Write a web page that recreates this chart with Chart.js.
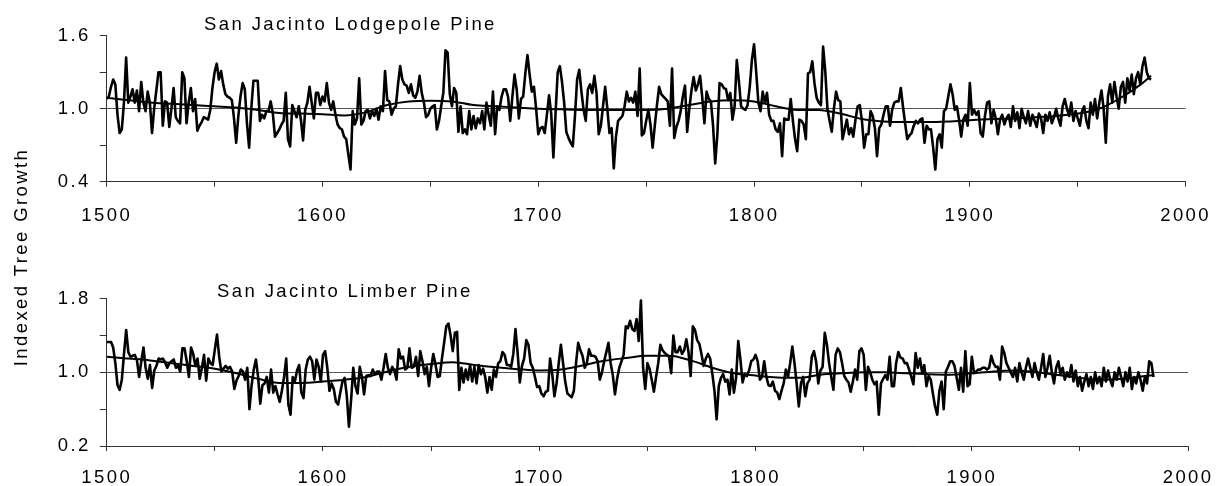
<!DOCTYPE html>
<html>
<head>
<meta charset="utf-8">
<title>San Jacinto tree growth</title>
<script src="https://cdn.jsdelivr.net/npm/chart.js@4/dist/chart.umd.min.js"></script>
<style>
  html, body { margin: 0; padding: 0; background: #fff; }
  #page { position: relative; width: 1229px; height: 486px; overflow: hidden; }
  .panel { position: absolute; left: 0; width: 1229px; height: 243px; }
  #top { top: 0; }
  #bottom { top: 243px; }
  #yTitle {
    position: absolute; left: -128px; top: 245px; width: 300px; height: 24px;
    line-height: 24px; text-align: center; transform: rotate(-90deg);
    font: 18.5px Arial, "Liberation Sans", sans-serif; letter-spacing: 2.4px;
    color: #000; white-space: nowrap;
  }
</style>
</head>
<body>
<div id="page">
  <div class="panel" id="top"><canvas id="lodgepoleChart" width="1229" height="243"></canvas></div>
  <div class="panel" id="bottom"><canvas id="limberChart" width="1229" height="243"></canvas></div>
  <div id="yTitle">Indexed Tree Growth</div>
</div>
<script>
// ---- data ----
const firstYear = 1500; // one value per year from here on

const lodgepole = [
  1.08, 1.10, 1.18, 1.24, 1.20, 0.95, 0.80, 0.83, 1.05, 1.42,
  1.05, 1.10, 1.16, 1.05, 1.15, 0.98, 1.22, 1.05, 0.98, 1.14,
  1.05, 0.80, 1.00, 1.15, 1.30, 1.30, 0.86, 1.06, 1.05, 0.85,
  1.00, 1.17, 0.93, 0.90, 0.88, 1.30, 1.25, 0.88, 1.05, 1.17,
  0.98, 1.08, 0.82, 0.86, 0.89, 0.93, 0.92, 0.91, 0.99, 1.17,
  1.30, 1.37, 1.24, 1.31, 1.20, 1.12, 1.10, 1.09, 1.07, 0.92,
  0.72, 0.94, 1.10, 1.21, 1.16, 0.88, 0.68, 1.00, 1.23, 1.23,
  1.23, 0.90, 0.95, 0.92, 0.98, 0.98, 1.06, 0.96, 0.77, 0.80,
  0.83, 0.87, 0.90, 1.13, 0.75, 0.69, 1.03, 0.98, 0.93, 1.02,
  0.91, 0.74, 0.99, 1.05, 1.18, 1.05, 0.92, 1.13, 1.13, 1.03,
  1.10, 1.06, 1.21, 1.05, 0.99, 1.06, 0.95, 0.87, 0.84, 0.83,
  0.77, 0.75, 0.62, 0.50, 0.98, 0.87, 0.92, 1.25, 0.87, 0.90,
  0.98, 0.99, 0.92, 0.98, 0.94, 1.00, 0.91, 1.02, 0.98, 1.31,
  1.07, 1.06, 0.95, 1.00, 1.02, 1.20, 1.35, 1.24, 1.20, 1.19,
  1.13, 1.20, 1.11, 1.09, 1.14, 1.27, 1.13, 1.05, 0.93, 0.95,
  1.00, 1.02, 1.03, 0.83, 0.90, 1.02, 1.13, 1.48, 1.46, 1.12,
  1.02, 1.17, 1.13, 0.81, 1.02, 0.80, 0.83, 0.79, 0.98, 0.83,
  0.94, 0.84, 0.92, 0.88, 0.98, 0.83, 1.05, 0.95, 0.86, 1.14,
  0.79, 1.02, 0.99, 1.10, 1.16, 1.16, 1.10, 0.90, 1.10, 1.28,
  1.16, 0.92, 1.08, 1.10, 1.29, 1.44, 1.28, 1.14, 1.18, 1.00,
  0.79, 0.84, 0.85, 0.80, 0.95, 1.11, 0.96, 0.60, 0.96, 1.30,
  1.35, 1.22, 1.05, 0.81, 0.76, 0.72, 0.69, 0.94, 1.24, 1.32,
  1.14, 0.99, 0.90, 1.16, 1.20, 1.13, 1.27, 1.13, 0.79, 0.86,
  1.02, 1.18, 1.00, 0.80, 0.84, 0.51, 0.77, 0.90, 0.92, 0.94,
  1.02, 1.14, 1.06, 1.09, 1.05, 1.14, 0.94, 1.33, 0.78, 0.80,
  0.90, 0.99, 0.87, 0.68, 0.86, 1.03, 1.18, 1.12, 1.10, 1.08,
  1.06, 0.86, 1.33, 0.76, 0.85, 0.90, 0.98, 1.10, 1.19, 0.81,
  1.00, 1.15, 1.26, 1.15, 1.20, 1.27, 1.09, 0.88, 1.14, 1.08,
  1.06, 0.86, 0.55, 0.79, 1.21, 1.20, 1.17, 1.16, 1.07, 1.13,
  0.91, 1.02, 1.40, 1.22, 1.02, 1.00, 0.99, 1.03, 1.18, 1.40,
  1.53, 1.30, 1.05, 0.98, 1.14, 1.05, 1.13, 0.95, 0.90, 0.90,
  0.83, 0.81, 0.88, 0.61, 0.92, 0.91, 0.91, 1.08, 0.90, 0.75,
  0.65, 0.91, 0.90, 0.87, 0.75, 1.29, 1.30, 1.39, 1.21, 1.09,
  1.05, 1.03, 1.51, 1.31, 1.00, 0.90, 0.81, 1.00, 1.14, 1.07,
  1.06, 0.75, 0.83, 0.91, 0.79, 0.84, 0.77, 0.91, 1.02, 1.03,
  0.90, 0.68, 0.79, 0.79, 0.98, 0.94, 0.84, 0.61, 0.84, 0.87,
  0.95, 1.02, 1.02, 0.86, 0.99, 1.05, 1.06, 1.06, 1.17, 1.02,
  0.88, 0.75, 0.78, 0.80, 0.86, 0.90, 0.88, 0.91, 0.92, 0.72,
  0.86, 0.83, 0.83, 0.68, 0.50, 0.75, 0.79, 0.68, 0.98, 1.00,
  1.10, 1.20, 1.12, 0.99, 1.02, 0.91, 0.77, 0.91, 0.95, 0.86,
  1.21, 0.95, 0.99, 0.95, 0.98, 0.80, 0.77, 0.94, 1.05, 1.06,
  0.88, 0.99, 0.92, 0.79, 0.91, 0.95, 0.87, 0.92, 0.95, 0.85,
  1.02, 0.90, 0.97, 0.84, 1.00, 0.93, 0.88, 0.98, 0.86, 0.95,
  0.90, 0.85, 0.96, 0.92, 0.80, 0.95, 0.90, 0.97, 0.88, 0.93,
  1.00, 0.92, 0.86, 1.02, 1.08, 1.00, 0.94, 1.05, 0.90, 0.98,
  0.92, 0.86, 0.98, 1.02, 0.90, 0.84, 1.05, 0.95, 1.08, 0.92,
  1.05, 1.15, 1.00, 0.72, 1.10, 1.20, 1.05, 1.22, 1.10, 1.00,
  1.18, 1.22, 1.05, 1.25, 1.15, 1.28, 1.12, 1.25, 1.30, 1.20,
  1.35, 1.42, 1.30, 1.25, 1.24
];

const limber = [
  1.33, 1.33, 1.33, 1.27, 1.10, 0.86, 0.81, 0.92, 1.20, 1.46,
  1.22, 1.17, 1.18, 1.19, 1.13, 0.95, 1.12, 1.27, 1.05, 0.93,
  1.08, 0.83, 1.02, 1.07, 1.15, 1.14, 1.15, 1.11, 1.05, 1.10,
  1.12, 1.14, 1.05, 1.07, 1.01, 1.26, 1.26, 1.12, 0.95, 1.27,
  1.20, 1.07, 1.15, 0.93, 1.05, 1.19, 0.91, 1.15, 1.10, 1.08,
  1.25, 1.41, 1.17, 1.01, 1.04, 1.07, 1.04, 1.06, 1.01, 0.82,
  0.91, 0.96, 1.03, 1.01, 0.92, 1.05, 0.60, 0.86, 1.03, 1.14,
  0.95, 0.66, 0.86, 0.88, 0.95, 0.78, 1.03, 0.78, 0.85, 0.76,
  0.68, 0.80, 0.95, 1.15, 0.65, 0.54, 0.95, 0.90, 1.02, 1.08,
  0.78, 0.72, 1.03, 1.14, 1.17, 1.12, 0.92, 1.14, 1.06, 0.90,
  1.19, 1.23, 1.05, 0.80, 0.88, 0.82, 0.68, 0.65, 0.78, 0.90,
  0.94, 0.75, 0.41, 0.70, 1.05, 0.85, 0.77, 1.06, 0.95, 0.76,
  0.96, 0.97, 0.96, 1.03, 0.98, 1.01, 1.01, 0.92, 1.05, 1.20,
  1.05, 0.98, 1.06, 1.02, 0.92, 1.25, 1.15, 1.17, 1.03, 1.05,
  1.26, 1.05, 1.06, 1.17, 0.96, 1.23, 1.12, 0.98, 1.06, 0.85,
  1.05, 1.20, 1.09, 0.95, 0.96, 1.15, 1.32, 1.50, 1.53, 1.40,
  1.23, 1.43, 1.44, 0.81, 1.05, 0.89, 1.03, 0.92, 1.08, 0.90,
  1.06, 0.88, 1.08, 0.98, 1.04, 0.95, 0.78, 0.95, 0.81, 1.03,
  0.95, 1.10, 1.12, 1.22, 1.19, 1.08, 1.08, 1.06, 1.20, 1.47,
  1.21, 0.89, 1.07, 1.15, 1.35, 1.30, 1.10, 1.05, 0.95, 0.84,
  0.85, 0.77, 0.74, 0.79, 0.80, 1.15, 0.98, 0.74, 0.88, 1.10,
  1.30, 1.10, 0.90, 0.77, 0.75, 0.73, 0.80, 1.10, 1.32, 1.24,
  1.18, 1.05, 1.10, 1.25, 1.18, 1.18, 1.17, 1.12, 0.92, 1.00,
  1.12, 1.22, 1.32, 1.10, 0.97, 0.76, 0.93, 1.05, 1.12, 1.19,
  1.50, 1.48, 1.56, 1.47, 1.45, 1.58, 1.34, 1.78, 1.05, 0.82,
  1.10, 1.04, 0.92, 0.79, 0.95, 1.10, 1.30, 1.24, 1.21, 1.19,
  1.17, 0.99, 1.40, 1.22, 1.22, 1.28, 1.20, 1.24, 1.36, 1.22,
  0.96, 1.50, 1.46, 1.35, 1.31, 1.20, 1.07, 1.15, 1.20, 1.15,
  0.99, 0.80, 0.49, 0.85, 0.94, 0.98, 0.90, 0.92, 0.76, 1.03,
  0.78, 0.94, 1.34, 1.14, 0.89, 0.98, 0.96, 1.02, 1.12, 1.14,
  1.19, 1.12, 0.92, 0.95, 1.12, 0.95, 0.86, 0.85, 0.90, 0.80,
  0.78, 0.71, 0.80, 0.88, 1.03, 0.95, 1.10, 1.28, 1.10, 0.88,
  0.63, 0.88, 0.95, 0.74, 0.88, 0.92, 1.17, 1.23, 1.12, 0.88,
  1.02, 1.06, 1.43, 1.30, 1.10, 0.95, 0.81, 1.19, 1.26, 1.22,
  1.10, 0.96, 0.92, 0.89, 0.79, 0.90, 1.03, 0.92, 1.23, 1.26,
  1.19, 0.81, 1.06, 1.00, 0.92, 0.87, 0.90, 0.54, 0.88, 0.93,
  0.97, 0.92, 1.17, 0.85, 0.85, 1.10, 1.22, 1.16, 1.15, 1.10,
  1.10, 1.03, 0.95, 0.87, 1.21, 1.05, 1.15, 1.00, 1.08, 0.85,
  0.96, 0.92, 0.77, 0.63, 0.54, 0.80, 0.90, 0.60, 1.01, 1.06,
  1.12, 1.12, 1.07, 0.94, 0.81, 1.05, 0.79, 1.23, 0.85, 0.87,
  1.17, 0.99, 1.01, 1.03, 1.03, 1.05, 1.05, 1.03, 1.05, 1.18,
  1.10, 1.06, 1.06, 0.92, 1.28, 1.21, 1.10, 1.05, 1.00, 0.95,
  1.05, 0.90, 1.10, 1.00, 0.92, 1.05, 1.15, 1.05, 0.95, 1.10,
  1.00, 0.92, 1.05, 1.20, 0.95, 1.05, 1.18, 1.00, 0.88, 1.05,
  1.12, 0.98, 1.05, 0.92, 1.00, 0.95, 1.08, 0.90, 1.02, 0.85,
  0.95, 0.80, 0.90, 0.98, 0.85, 0.95, 0.82, 1.00, 0.88, 0.95,
  0.85, 1.05, 0.90, 1.02, 0.92, 0.85, 1.00, 0.92, 1.05, 0.95,
  0.85, 1.00, 0.90, 1.05, 0.82, 0.95, 0.88, 1.00, 0.92, 0.80,
  0.95, 0.88, 1.12, 1.10, 0.95
];

// smoothed curves, read at these years
const smoothYears = [
  1500, 1510, 1520, 1530, 1540, 1550, 1560, 1570, 1580, 1590,
  1600, 1610, 1620, 1630, 1640, 1650, 1660, 1670, 1680, 1690,
  1700, 1710, 1720, 1730, 1740, 1750, 1760, 1770, 1780, 1790,
  1800, 1810, 1820, 1830, 1840, 1850, 1860, 1870, 1880, 1890,
  1900, 1910, 1920, 1930, 1940, 1950, 1960, 1970, 1980, 1984
];
const lodgepoleSmooth = [
  1.09, 1.07, 1.05, 1.04, 1.03, 1.02, 1.01, 0.99, 0.965, 0.96,
  0.955, 0.945, 0.97, 1.03, 1.06, 1.065, 1.06, 1.03, 1.02, 1.01,
  1.00, 0.995, 0.99, 0.99, 0.99, 0.99, 1.00, 1.03, 1.06, 1.07,
  1.06, 1.02, 0.99, 0.99, 0.96, 0.915, 0.895, 0.89, 0.89, 0.895,
  0.905, 0.915, 0.92, 0.93, 0.94, 0.96, 1.00, 1.09, 1.21, 1.27
];
const limberSmooth = [
  1.17, 1.15, 1.13, 1.10, 1.07, 1.04, 0.99, 0.93, 0.885, 0.885,
  0.90, 0.92, 0.95, 1.01, 1.06, 1.09, 1.11, 1.08, 1.055, 1.035,
  1.02, 1.03, 1.075, 1.125, 1.155, 1.18, 1.18, 1.13, 1.05, 0.99,
  0.965, 0.945, 0.94, 0.975, 0.99, 1.00, 1.00, 0.99, 0.98, 0.975,
  0.99, 1.01, 1.02, 1.00, 0.97, 0.94, 0.92, 0.93, 0.96, 0.97
];

// axes
const xRange = [1500, 2000];
const lodgepoleYTicks = [0.4, 0.7, 1.0, 1.3, 1.6];
const lodgepoleYLabels = ['0.4', '', '1.0', '', '1.6'];
const limberYTicks = [0.2, 0.6, 1.0, 1.4, 1.8];
const limberYLabels = ['0.2', '', '1.0', '', '1.8'];

// ---- drawing ----
const FONT_FAMILY = 'Arial, "Liberation Sans", sans-serif';
const FONT_SIZE = 18.5;
const LETTER_SPACING = '2.4px';

Chart.defaults.font.family = FONT_FAMILY;
Chart.defaults.font.size = FONT_SIZE;
Chart.defaults.color = '#000';

function yearPoints(values) {
  return values.map((v, i) => ({ x: firstYear + i, y: v }));
}

function smoothPoints(values) {
  return values.map((v, i) => ({ x: smoothYears[i], y: v }));
}

// spaced-out lettering like the original export, plus the panel caption
const spacedText = {
  id: 'spacedText',
  beforeLayout(chart) { chart.ctx.letterSpacing = LETTER_SPACING; },
  beforeDraw(chart) { chart.ctx.letterSpacing = LETTER_SPACING; },
  afterDraw(chart, args, opts) {
    const ctx = chart.ctx;
    ctx.save();
    ctx.letterSpacing = LETTER_SPACING;
    ctx.font = FONT_SIZE + 'px ' + FONT_FAMILY;
    ctx.fillStyle = '#000';
    ctx.textAlign = 'left';
    ctx.textBaseline = 'alphabetic';
    ctx.fillText(opts.text, opts.x, opts.y);
    ctx.restore();
  }
};

function makePanel(canvasId, cfg) {
  return new Chart(document.getElementById(canvasId), {
    type: 'line',
    data: {
      datasets: [
        {
          data: yearPoints(cfg.values),
          borderColor: '#000',
          borderWidth: 2.6,
          pointRadius: 0,
          tension: 0,
          borderJoinStyle: 'round'
        },
        {
          data: smoothPoints(cfg.smooth),
          borderColor: '#000',
          borderWidth: 2,
          pointRadius: 0,
          cubicInterpolationMode: 'monotone'
        }
      ]
    },
    options: {
      responsive: false,
      animation: false,
      events: [],
      layout: { padding: { top: cfg.padTop, right: 28, left: 0, bottom: 0 } },
      plugins: {
        legend: { display: false },
        tooltip: { enabled: false },
        spacedText: { text: cfg.title, x: cfg.titleX, y: cfg.titleY }
      },
      scales: {
        x: {
          type: 'linear',
          min: xRange[0],
          max: xRange[1],
          afterFit: function(scale) { scale.height = cfg.xHeight; },
          border: { color: '#333', width: 1 },
          grid: { drawOnChartArea: false, tickLength: 5, color: '#333' },
          ticks: {
            stepSize: 50,
            autoSkip: false,
            maxRotation: 0,
            padding: cfg.xPad,
            callback: function(v) { return v % 100 === 0 ? String(v) : ''; }
          }
        },
        y: {
          type: 'linear',
          min: cfg.yTicks[0],
          max: cfg.yTicks[cfg.yTicks.length - 1],
          afterFit: function(scale) { scale.width = 106.7; },
          afterBuildTicks: function(scale) {
            scale.ticks = cfg.yTicks.map(function(v) { return { value: v }; });
          },
          border: { color: '#333', width: 1 },
          grid: {
            color: function(c) {
              return c.tick && Math.abs(c.tick.value - 1) < 1e-6 ? '#555' : 'rgba(0,0,0,0)';
            },
            tickColor: '#333',
            tickLength: 7,
            lineWidth: 1
          },
          ticks: {
            padding: 9,
            callback: function(v, i) { return cfg.yLabels[i]; }
          }
        }
      }
    },
    plugins: [spacedText]
  });
}

makePanel('lodgepoleChart', {
  values: lodgepole,
  smooth: lodgepoleSmooth,
  yTicks: lodgepoleYTicks,
  yLabels: lodgepoleYLabels,
  title: 'San Jacinto Lodgepole Pine',
  titleX: 204,
  titleY: 30,
  padTop: 35.7,
  xHeight: 61.3,
  xPad: 18
});

makePanel('limberChart', {
  values: limber,
  smooth: limberSmooth,
  yTicks: limberYTicks,
  yLabels: limberYLabels,
  title: 'San Jacinto Limber Pine',
  titleX: 217,
  titleY: 53.7,
  padTop: 55.7,
  xHeight: 40,
  xPad: 15.5
});
</script>
</body>
</html>
